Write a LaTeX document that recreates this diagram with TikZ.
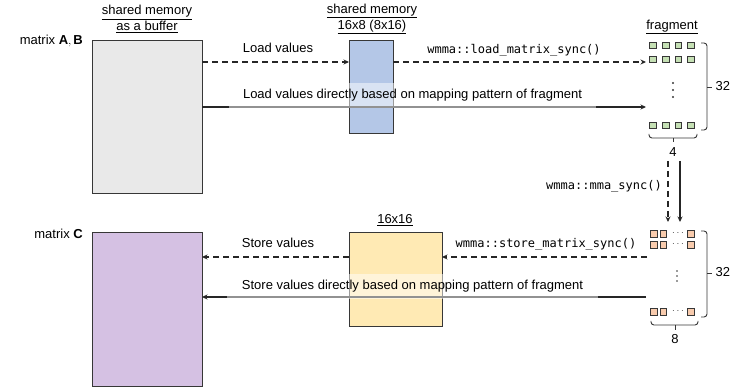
\documentclass[tikz,border=0pt]{standalone}
\usepackage{fontspec}
\setmainfont{Liberation Sans}
\setmonofont{DejaVu Sans Mono}
\usetikzlibrary{arrows.meta,calc}
\definecolor{edge}{RGB}{55,55,55}
\definecolor{bufgray}{RGB}{233,233,233}
\definecolor{smblue}{RGB}{180,199,231}
\definecolor{matpurple}{RGB}{213,193,227}
\definecolor{smyellow}{RGB}{255,234,180}
\definecolor{fraggreen}{RGB}{197,224,180}
\definecolor{fragorange}{RGB}{248,203,173}
\begin{document}
\begin{tikzpicture}[x=1pt,y=-1pt,
  font=\fontsize{13}{16}\selectfont,
  membox/.style={draw=edge, line width=1pt, inner sep=0pt, outer sep=0pt, anchor=north west},
  conn/.style={draw=black!85, line width=1.3pt, -{Stealth[length=5.5pt,width=5pt]}},
  dconn/.style={conn, dash pattern=on 6pt off 4pt},
  codetext/.style={font=\ttfamily\fontsize{12}{14}\selectfont, inner sep=0pt},
  lbl/.style={inner sep=0pt, text height=9.4pt, text depth=2.7pt},
  veil/.style={fill=white, fill opacity=0.5, text opacity=1, inner xsep=14.5pt, inner ysep=6.2pt, text height=9.4pt, text depth=2.7pt},
  cellA/.style={draw=edge, line width=0.8pt, fill=fraggreen, minimum size=6.5pt, inner sep=0pt},
  cellC/.style={draw=edge, line width=0.8pt, fill=fragorange, minimum size=6.5pt, inner sep=0pt},
  brace/.style={draw=edge, line width=0.9pt, rounded corners=3pt},
  vdot/.style={fill=edge}
]
\useasboundingbox (0,0) rectangle (732,390);

% memory boxes
\node[membox, fill=bufgray, minimum width=110pt, minimum height=153pt] (bufAB) at (92,41) {};
\node[membox, fill=smblue, minimum width=44pt, minimum height=93pt] (smAB) at (349,41) {};
\node[membox, fill=matpurple, minimum width=110pt, minimum height=154pt] (matC) at (92,233) {};
\node[membox, fill=smyellow, minimum width=93pt, minimum height=94pt] (smC) at (349,233) {};

% titles
\node[align=center, inner sep=0pt] (tBuf) at (147,19) {\underline{shared memory}\\\underline{as a buffer}};
\node[align=center, inner sep=0pt] (tSm) at (372,19) {\underline{shared memory}\\\underline{16x8 (8x16)}};
\node[lbl] (tFrag) at (672,26) {\underline{fragment}};
\node[lbl] (tSmC) at (395,220) {\underline{16x16}};
\node[lbl, anchor=east] (tAB) at (83,41) {matrix $\mathbf{A},\mathbf{B}$};
\node[lbl, anchor=east] (tC) at (83,235) {matrix $\mathbf{C}$};

% fragment of A,B
\foreach \c [count=\i] in {653,665.7,678.3,691}
  \foreach \r [count=\j] in {45.5,59.5,125.5}
    \node[cellA] (ga-\j-\i) at (\c,\r) {};
\foreach \r in {83,90,97} \fill[vdot] (673,\r) circle (1.1pt);
\draw[brace] (701,43) -- (707,43) -- (707,130) -- (701,130);
\draw[brace] (707,87) -- (712,87);
\node[lbl, anchor=west] (n32a) at (715.5,87) {32};
\draw[brace] (649,134) -- (649,138) -- (697,138) -- (697,134);
\draw[brace] (673,138) -- (673,142);
\node[lbl] (n4) at (673,153) {4};

% fragment of C
\foreach \c [count=\i] in {654,663.5,691}
  \foreach \r [count=\j] in {234,245,312}
    \node[cellC] (gc-\j-\i) at (\c,\r) {};
\foreach \r in {234,245,312}
  \node[inner sep=0pt, text=black!75, font=\fontsize{10}{10}\selectfont] at (678,\r-0.5) {$\cdots$};
\foreach \r in {271,276,281} \fill[vdot] (677,\r) circle (0.8pt);
\draw[brace] (701,231) -- (707,231) -- (707,317) -- (701,317);
\draw[brace] (707,273) -- (712,273);
\node[lbl, anchor=west] (n32c) at (715.5,273) {32};
\draw[brace] (651,321) -- (651,325) -- (698,325) -- (698,321);
\draw[brace] (675,325) -- (675,330);
\node[lbl] (n8) at (675,340) {8};

% connector end points at the fragments
\coordinate (fA1) at (646,62);
\coordinate (fA2) at (646,107);
\coordinate (fC1) at (647,257);
\coordinate (fC2) at (646,297);
\coordinate (mmaD0) at (668,161);
\coordinate (mmaD1) at (668,222);
\coordinate (mmaS0) at (680,161);
\coordinate (mmaS1) at (680,222);

% top connectors
\draw[dconn] ($(bufAB.north east)+(0,21)$) -- ($(smAB.north west)+(0,21)$);
\draw[dconn] ($(smAB.north east)+(0,21)$) -- (fA1);
\draw[conn] ($(bufAB.north east)+(0,66)$) -- (fA2);

% mma
\draw[dconn] (mmaD0) -- (mmaD1);
\draw[conn] (mmaS0) -- (mmaS1);
\node[codetext, anchor=east] (tMma) at (662,186) {wmma::mma\_sync()};

% bottom connectors
\draw[dconn] (fC1) -- ($(smC.north east)+(0,24)$);
\draw[dconn] ($(smC.north west)+(0,24)$) -- ($(matC.north east)+(0,24)$);
\draw[conn] (fC2) -- ($(matC.north east)+(0,64)$);

% connector labels
\node[lbl] (tLoad) at (278,49) {Load values};
\node[codetext] (tLoadSync) at (514,50) {wmma::load\_matrix\_sync()};
\node[veil] (tLoadDirect) at (412.5,95.5) {Load values directly based on mapping pattern of fragment};
\node[lbl] (tStore) at (278,244) {Store values};
\node[codetext] (tStoreSync) at (546,244) {wmma::store\_matrix\_sync()};
\node[veil] (tStoreDirect) at (412.5,286.5) {Store values directly based on mapping pattern of fragment};
\end{tikzpicture}
\end{document}
